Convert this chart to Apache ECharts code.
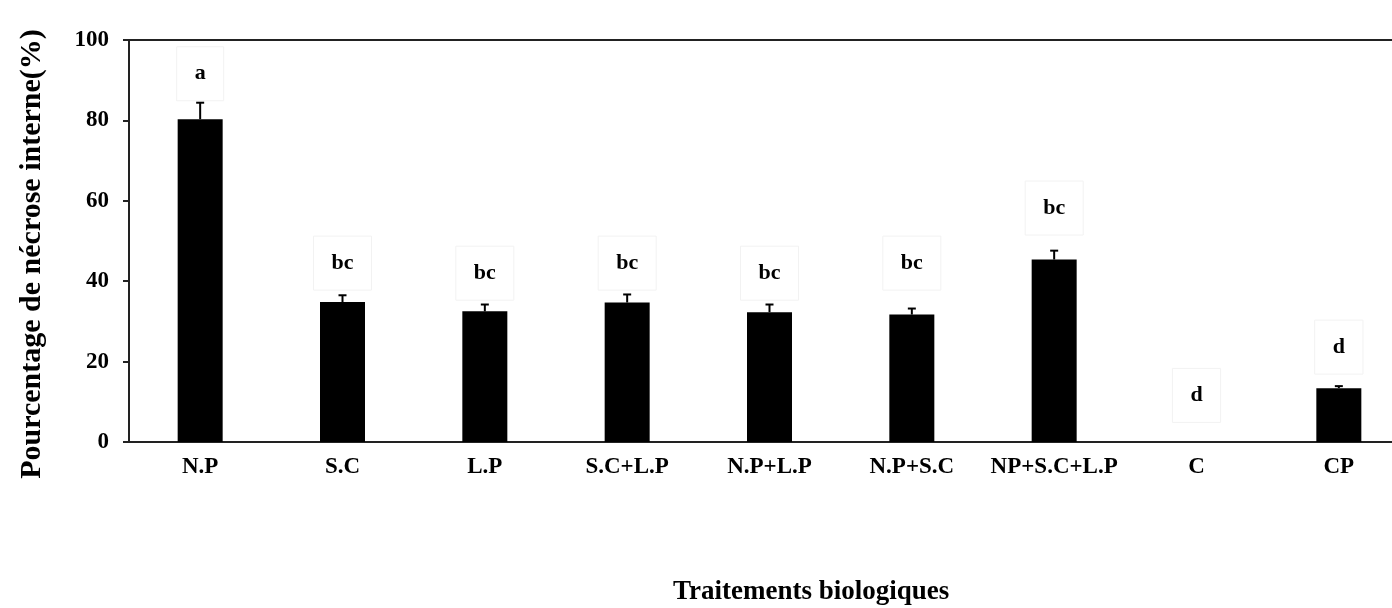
<!DOCTYPE html>
<html>
<head>
<meta charset="utf-8">
<script src="https://cdn.jsdelivr.net/npm/echarts@6/dist/echarts.min.js"></script>
<style>
  html, body { margin: 0; padding: 0; background: #fff; overflow: hidden; }
  /* the plot runs past the right edge of the picture, so the chart is wider than the window */
  #bar { width: 1410px; height: 608px; }
</style>
</head>
<body>
<div id="bar"></div>
<script>
var categories = ['N.P', 'S.C', 'L.P', 'S.C+L.P', 'N.P+L.P', 'N.P+S.C', 'NP+S.C+L.P', 'C', 'CP'];
var means = [80.3, 34.8, 32.5, 34.7, 32.3, 31.7, 45.4, 0, 13.4];
var errTops = [84.4, 36.5, 34.2, 36.7, 34.2, 33.2, 47.6, 0, 13.9];
var letters = ['a', 'bc', 'bc', 'bc', 'bc', 'bc', 'bc', 'd', 'd'];
var letterY = [91.6, 44.5, 42, 44.5, 42, 44.5, 58.2, 11.6, 23.6];
var yTicks = [0, 20, 40, 60, 80, 100];

var font = '"Liberation Serif", "Times New Roman", serif';

var myChartBar = echarts.init(document.getElementById('bar'));

var optionBar = {
    animation: false,
    textStyle: { fontFamily: font },
    title: {
        text: 'Traitements biologiques',
        left: 668,
        top: 574,
        textStyle: { fontFamily: font, fontWeight: 'bold', fontSize: 27, color: '#000' }
    },
    grid: {
        left: 129,
        top: 40,
        right: 0,
        bottom: 166,
        show: true,
        borderColor: '#222',
        borderWidth: 2
    },
    xAxis: {
        type: 'category',
        data: categories,
        axisLine: { lineStyle: { color: '#222', width: 2 } },
        axisTick: { alignWithLabel: true, length: 6, lineStyle: { color: '#222', width: 2 } },
        axisLabel: { interval: 0, margin: 14, fontFamily: font, fontWeight: 'bold', fontSize: 23, color: '#000' },
        splitLine: { show: false }
    },
    yAxis: {
        type: 'value',
        min: yTicks[0],
        max: yTicks[yTicks.length - 1],
        interval: 20,
        name: 'Pourcentage de nécrose interne(%)',
        nameLocation: 'middle',
        nameGap: 82,
        nameTextStyle: { fontFamily: font, fontWeight: 'bold', fontSize: 30, color: '#000', padding: [0, 0, 0, -26] },
        axisLine: { show: true, lineStyle: { color: '#222', width: 2 } },
        axisTick: { show: true, length: 6, lineStyle: { color: '#222', width: 2 } },
        axisLabel: { margin: 20, fontFamily: font, fontWeight: 'bold', fontSize: 23, color: '#000' },
        splitLine: { show: false }
    },
    series: [{
        name: 'moyenne',
        type: 'bar',
        data: means,
        barWidth: 45,
        itemStyle: { color: '#000' }
    }, {
        name: 'erreur',
        type: 'custom',
        data: categories.map(function (c, i) { return [i, means[i], errTops[i]]; }),
        renderItem: function (params, api) {
            if (api.value(2) <= api.value(1)) return;
            var base = api.coord([api.value(0), api.value(1)]);
            var top = api.coord([api.value(0), api.value(2)]);
            return {
                type: 'group',
                children: [{
                    type: 'line',
                    shape: { x1: base[0], y1: base[1], x2: top[0], y2: top[1] },
                    style: { stroke: '#000', lineWidth: 2 }
                }, {
                    type: 'line',
                    shape: { x1: top[0] - 4, y1: top[1], x2: top[0] + 4, y2: top[1] },
                    style: { stroke: '#000', lineWidth: 2 }
                }]
            };
        },
        z: 3
    }, {
        // lettres de significativité dans leurs cadres très pâles
        name: 'lettres',
        type: 'scatter',
        symbolSize: 0,
        itemStyle: { opacity: 1 },
        data: categories.map(function (c, i) { return [i, letterY[i]]; }),
        label: {
            show: true,
            position: 'inside',
            formatter: function (p) { return letters[p.dataIndex]; },
            fontFamily: font,
            fontWeight: 'bold',
            fontSize: 22,
            color: '#000',
            borderColor: '#f2f2f2',
            borderWidth: 1,
            padding: [16, 18, 16, 18]
        }
    }]
};

myChartBar.setOption(optionBar);
</script>
</body>
</html>
